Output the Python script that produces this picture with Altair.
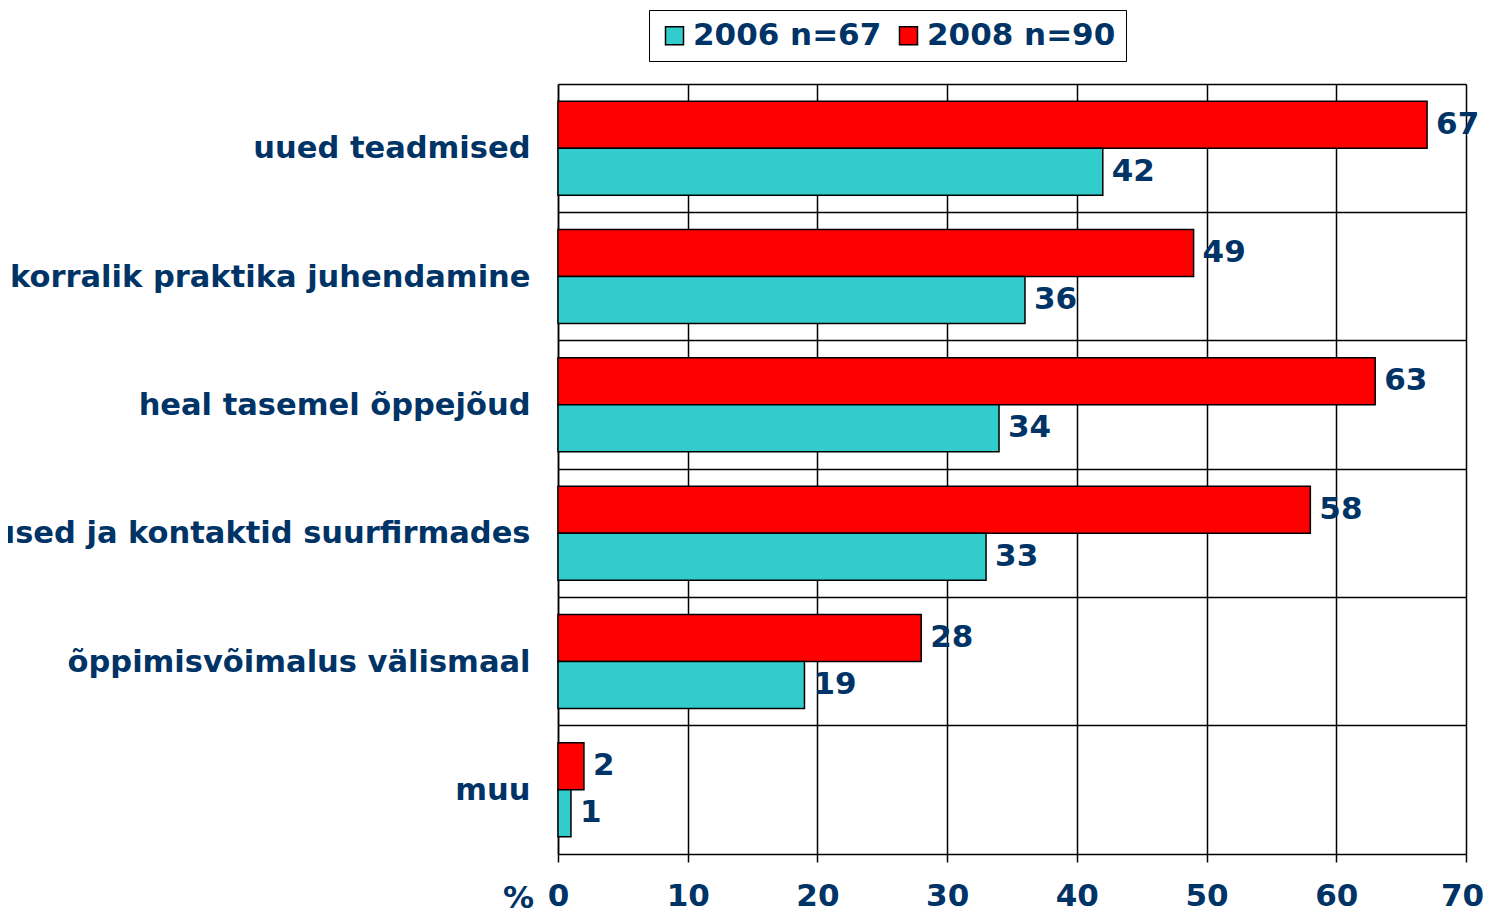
import altair as alt
import pandas as pd

categories = [
    "uued teadmised",
    "korralik praktika juhendamine",
    "heal tasemel õppejõud",
    "praktikavõimalused ja kontaktid suurfirmades",
    "õppimisvõimalus välismaal",
    "muu",
]
series = ["2008 n=90", "2006 n=67"]
values_2008 = [67, 49, 63, 58, 28, 2]
values_2006 = [42, 36, 34, 33, 19, 1]
x_ticks = [0, 10, 20, 30, 40, 50, 60, 70]

rows = []
for c, v8, v6 in zip(categories, values_2008, values_2006):
    rows.append({"cat": c, "series": series[0], "value": v8})
    rows.append({"cat": c, "series": series[1], "value": v6})
df = pd.DataFrame(rows)

FONT = "DejaVu Sans"
BLUE = "#003366"

y_enc = alt.Y(
    "cat:N",
    sort=categories,
    scale=alt.Scale(paddingInner=0, paddingOuter=0),
    axis=alt.Axis(
        title=None,
        bandPosition=0,
        labelOffset=1,
        grid=True,
        gridColor="black",
        gridWidth=1.5,
        gridOpacity=1,
        ticks=False,
        domain=True,
        domainColor="black",
        domainWidth=1.5,
        labelFont=FONT,
        labelFontSize=30.5,
        labelFontWeight="bold",
        labelColor=BLUE,
        labelPadding=28,
        labelLimit=1000,
    ),
)
yoff = alt.YOffset(
    "series:N",
    sort=series,
    scale=alt.Scale(paddingInner=0, paddingOuter=0.365),
)
x_enc = alt.X(
    "value:Q",
    scale=alt.Scale(domain=[0, 70], nice=False),
    axis=alt.Axis(
        values=x_ticks,
        title="%",
        titleFont=FONT,
        titleFontSize=31,
        titleFontWeight="bold",
        titleColor=BLUE,
        titleX=-40,
        titleY=44,
        titleAlign="center",
        titleBaseline="middle",
        grid=True,
        gridColor="black",
        gridWidth=1.5,
        gridOpacity=1,
        tickColor="black",
        tickSize=8,
        tickWidth=1.5,
        domainColor="black",
        domainWidth=1.5,
        labelFont=FONT,
        labelFontSize=31,
        labelFontWeight="bold",
        labelColor=BLUE,
        labelPadding=19,
        labelFlush=False,
        labelOverlap=False,
        labelOffset={"condition": {"test": "datum.value == 70", "value": -4}, "value": 0},
    ),
)
color_enc = alt.Color(
    "series:N",
    scale=alt.Scale(domain=["2006 n=67", "2008 n=90"], range=["#33CCCC", "#FF0000"]),
    legend=alt.Legend(
        title=None,
        orient="none",
        direction="horizontal",
        legendX=91,
        legendY=-74,
        strokeColor="black",
        fillColor="white",
        padding=10,
        symbolType="square",
        symbolSize=324,
        symbolStrokeColor="black",
        symbolStrokeWidth=1.5,
        labelFont=FONT,
        labelFontSize=31,
        labelFontWeight="bold",
        labelColor=BLUE,
        columnPadding=11,
        labelOffset=3,
        labelLimit=400,
    ),
)

bars = alt.Chart(df).mark_bar(stroke="black", strokeWidth=1.5).encode(
    x=x_enc, y=y_enc, yOffset=yoff, color=color_enc
)
labels = alt.Chart(df).mark_text(
    align="left", baseline="middle", dx=9, font=FONT, fontSize=31,
    fontWeight="bold", color=BLUE,
).encode(
    x=alt.X("value:Q"), y=alt.Y("cat:N", sort=categories), yOffset=alt.YOffset("series:N", sort=series),
    text="value:Q",
)

chart = alt.layer(bars, labels).properties(
    width=908,
    height=770,
    autosize=alt.AutoSizeParams(type="none"),
    padding={"left": 550, "top": 76, "right": 17, "bottom": 57},
).configure_view(stroke="#888888", strokeWidth=2).configure(background="white")

chart.save("out.html", embed_options={"renderer": "svg", "actions": False})
